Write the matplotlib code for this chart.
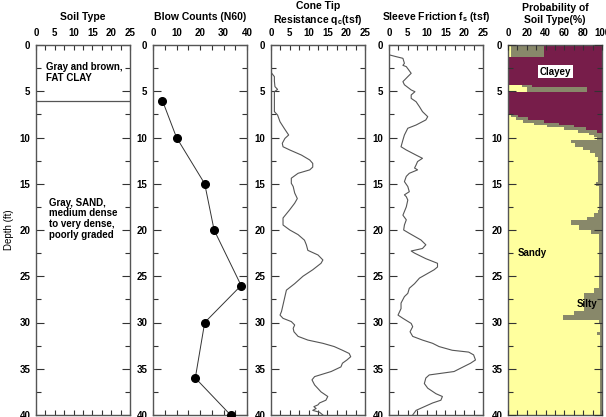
import matplotlib.pyplot as plt
from matplotlib.ticker import MultipleLocator

plt.rcParams['font.family'] = ['Liberation Sans', 'DejaVu Sans']
plt.rcParams['font.weight'] = 'bold'
plt.rcParams['font.size'] = 7

# blow counts (N60)
spt_depth = [6, 10, 15, 20, 26, 30, 36, 40]
spt_n = [4, 10, 22, 26, 37.5, 22, 18, 33]

# cone tip resistance qc (tsf)
qc_depth = [3.06, 3.42, 3.9, 4.5, 4.8, 5.05, 7.2, 7.57, 8.3, 9.0, 9.37, 9.73, 10.1, 10.63, 11.0,
            11.35, 11.9, 12.43, 12.8, 13.2, 13.5, 13.87, 14.4, 14.95, 15.3, 16.0, 16.6, 17.1,
            17.8, 18.7, 19.46, 20.0, 20.5, 21.1, 21.6, 22.2, 22.7, 23.24, 23.6, 24.3, 25.0,
            25.8, 26.5, 26.85, 28.8, 29.2, 29.55, 29.9, 30.27, 30.63, 31.0, 31.5, 31.9, 32.25,
            32.6, 33.0, 33.35, 33.7, 34.05, 34.4, 34.8, 35.3, 35.85, 36.2, 36.75, 37.5, 38.0,
            38.4, 38.7, 38.9, 39.1, 39.3, 39.5, 39.7, 40.0]
qc = [0.2, 0.9, 0.9, 1.05, 1.75, 0.9, 0.9, 1.75, 2.4, 3.5, 4.1, 4.7, 3.7, 3.0, 3.2,
      5.0, 8.1, 10.3, 11.1, 11.1, 10.3, 7.2, 5.4, 5.4, 5.9, 6.3, 7.0, 6.3,
      5.0, 3.2, 3.2, 5.0, 7.2, 8.9, 9.4, 9.8, 12.5, 13.8, 13.3, 11.1, 8.5,
      6.3, 4.1, 3.9, 2.8, 2.4, 3.2, 5.4, 6.3, 5.9, 6.1, 7.2, 9.8, 13.8,
      16.8, 19.0, 20.8, 21.2, 20.2, 19.0, 18.6, 16.0, 11.6, 10.9, 11.6, 13.3, 15.1,
      14.6, 12.9, 12.5, 11.4, 12.0, 11.1, 12.9, 13.8]

# sleeve friction fs (tsf)
fs_depth = [1.08, 1.26, 1.44, 1.98, 2.2, 2.34, 3.06, 3.42, 3.96, 4.3, 4.86, 5.05, 5.4, 5.77,
            6.13, 6.67, 7.2, 7.75, 8.1, 8.65, 9.0, 9.73, 10.27, 11.0, 11.35, 11.9, 12.25,
            12.6, 12.97, 13.3, 13.5, 13.87, 14.2, 14.77, 15.3, 15.86, 16.2, 16.4, 16.76,
            17.5, 18.4, 18.9, 19.46, 20.0, 20.36, 21.08, 21.6, 22.0, 22.27, 22.5, 23.1,
            23.6, 24.0, 24.3, 24.9, 25.2, 25.8, 26.3, 26.85, 27.2, 27.9, 28.5, 29.2, 29.55,
            30.1, 30.45, 31.0, 31.5, 31.9, 32.25, 32.6, 33.0, 33.2, 33.5, 34.05, 34.4,
            34.95, 35.3, 35.67, 36.0, 36.6, 37.1, 37.7, 38.0, 38.4, 38.7, 39.1, 39.5, 40.0]
fs = [0.2, 1.9, 3.7, 4.1, 3.7, 4.6, 5.9, 5.0, 3.7, 4.1, 5.9, 6.9, 5.9, 5.9,
      7.2, 8.1, 8.9, 10.3, 9.8, 7.2, 5.0, 4.1, 3.7, 3.2, 4.6, 7.2, 8.9,
      7.6, 7.2, 6.8, 7.6, 5.4, 4.6, 4.1, 5.0, 5.4, 4.1, 4.6, 5.0,
      4.6, 3.7, 4.6, 4.1, 3.9, 5.4, 8.5, 9.8, 8.9, 5.9, 6.8, 9.8,
      12.9, 12.9, 12.0, 9.4, 8.1, 6.8, 5.4, 5.0, 4.1, 3.2, 3.2, 2.4, 3.7,
      5.9, 6.3, 5.6, 6.3, 8.9, 11.6, 13.3, 16.8, 21.2, 22.5, 23.0, 21.7,
      19.0, 17.3, 10.7, 9.8, 9.4, 10.3, 12.5, 14.2, 13.8, 11.6, 9.4, 7.2, 6.3]

# probability of soil type (%), steps starting at each depth
prob_depth = [0, 1.3, 4.3, 4.5, 5.05, 7.57, 7.82, 8.1, 8.4, 8.65, 8.9, 9.2, 9.48, 9.73, 9.98,
              10.27, 10.63, 10.99, 11.35, 11.7, 12.07, 14.8, 15.2, 17.84, 18.2, 18.56, 18.9,
              19.46, 20.0, 20.4, 26.3, 26.85, 28.8, 29.2, 29.7, 30.2, 31.0, 31.4, 40]
sandy = [3, 0, 15, 20, 0, 3, 8, 16, 28, 41, 60, 74, 86, 91, 95,
         67, 71, 80, 87, 93, 96, 94, 97, 96, 91, 84, 67,
         76, 88, 97, 91, 81, 70, 59, 97, 98, 95, 98, 98]
sandy_silty = [38, 0, 25, 84, 0, 11, 21, 38, 54, 70, 83, 95, 100, 100, 100,
               100, 100, 100, 100, 100, 100, 100, 100, 100, 100, 100, 100,
               100, 100, 100, 100, 100, 100, 100, 100, 100, 100, 100, 100]

fig = plt.figure(figsize=(6.06, 4.17), dpi=100)
W, H = 606, 417
lefts = [36, 153, 271, 389, 508]
axes = [fig.add_axes([l / W, 1 - 415 / H, 94 / W, 370 / H]) for l in lefts]

edge = '#555555'
for ax in axes:
    ax.set_ylim(40, 0)
    ax.yaxis.set_major_locator(MultipleLocator(5))
    ax.yaxis.set_minor_locator(MultipleLocator(2.5))
    ax.xaxis.tick_top()
    ax.tick_params(which='both', direction='in', top=True, bottom=True, left=True, right=True,
                   colors='#333333', labelcolor='black')
    ax.tick_params(axis='y', which='major', length=6, width=0.8, pad=4)
    ax.tick_params(axis='y', which='minor', length=3.5, width=0.8)
    ax.tick_params(axis='x', which='both', length=3.5, width=0.8, pad=5)
    for s in ax.spines.values():
        s.set_color(edge)
        s.set_linewidth(1.0)

# soil type
ax = axes[0]
ax.set_xlim(0, 25)
ax.xaxis.set_major_locator(MultipleLocator(5))
ax.xaxis.set_minor_locator(MultipleLocator(2.5))
ax.axhline(6, color=edge, lw=0.9)
ax.text(2.7, 3.0, 'Gray and brown,\nFAT CLAY', ha='left', va='center', fontsize=7, linespacing=1.1)
ax.text(3.5, 18.8, 'Gray, SAND,\nmedium dense\nto very dense,\npoorly graded', ha='left',
        va='center', fontsize=7, linespacing=1.1)
ax.set_ylabel('Depth (ft)', fontsize=7, labelpad=4)

# blow counts
ax = axes[1]
ax.set_xlim(0, 40)
ax.xaxis.set_major_locator(MultipleLocator(10))
ax.xaxis.set_minor_locator(MultipleLocator(5))
ax.plot(spt_n, spt_depth, color='#333333', lw=0.7, marker='o', markersize=5.5,
        markerfacecolor='black', markeredgecolor='black', clip_on=False, zorder=3)

# cone tip
ax = axes[2]
ax.set_xlim(0, 25)
ax.xaxis.set_major_locator(MultipleLocator(5))
ax.xaxis.set_minor_locator(MultipleLocator(2.5))
ax.plot(qc, qc_depth, color='#555555', lw=0.8)

# sleeve friction
ax = axes[3]
ax.set_xlim(0, 25)
ax.xaxis.set_major_locator(MultipleLocator(5))
ax.xaxis.set_minor_locator(MultipleLocator(2.5))
ax.plot(fs, fs_depth, color='#555555', lw=0.8)

# probability
ax = axes[4]
ax.set_xlim(0, 100)
ax.xaxis.set_major_locator(MultipleLocator(20))
ax.xaxis.set_minor_locator(MultipleLocator(10))
ax.fill_betweenx(prob_depth, 0, sandy, step='post', color='#FFFF9E', lw=0, zorder=0)
ax.fill_betweenx(prob_depth, sandy, sandy_silty, step='post', color='#88886A', lw=0, zorder=0)
ax.fill_betweenx(prob_depth, sandy_silty, 100, step='post', color='#771D4A', lw=0, zorder=0)
ax.set_axisbelow(False)
ax.text(50.5, 2.9, 'Clayey', ha='center', va='center', fontsize=7,
        bbox=dict(facecolor='white', edgecolor='none', pad=1))
ax.text(26, 22.5, 'Sandy', ha='center', va='center', fontsize=7)
ax.text(84, 28.0, 'Silty', ha='center', va='center', fontsize=7)

# titles
titles = ['Soil Type', 'Blow Counts (N60)', 'Cone Tip\nResistance q$_\\mathregular{c}$(tsf)',
          'Sleeve Friction f$_\\mathregular{s}$ (tsf)', 'Probability of\nSoil Type(%)']
for ax, t in zip(axes, titles):
    ax.text(0.5, 1.076 if '\n' not in t else 1.084, t, transform=ax.transAxes, ha='center',
            va='center', fontsize=7.5, linespacing=1.15)

fig.savefig('out.png', dpi=100)
